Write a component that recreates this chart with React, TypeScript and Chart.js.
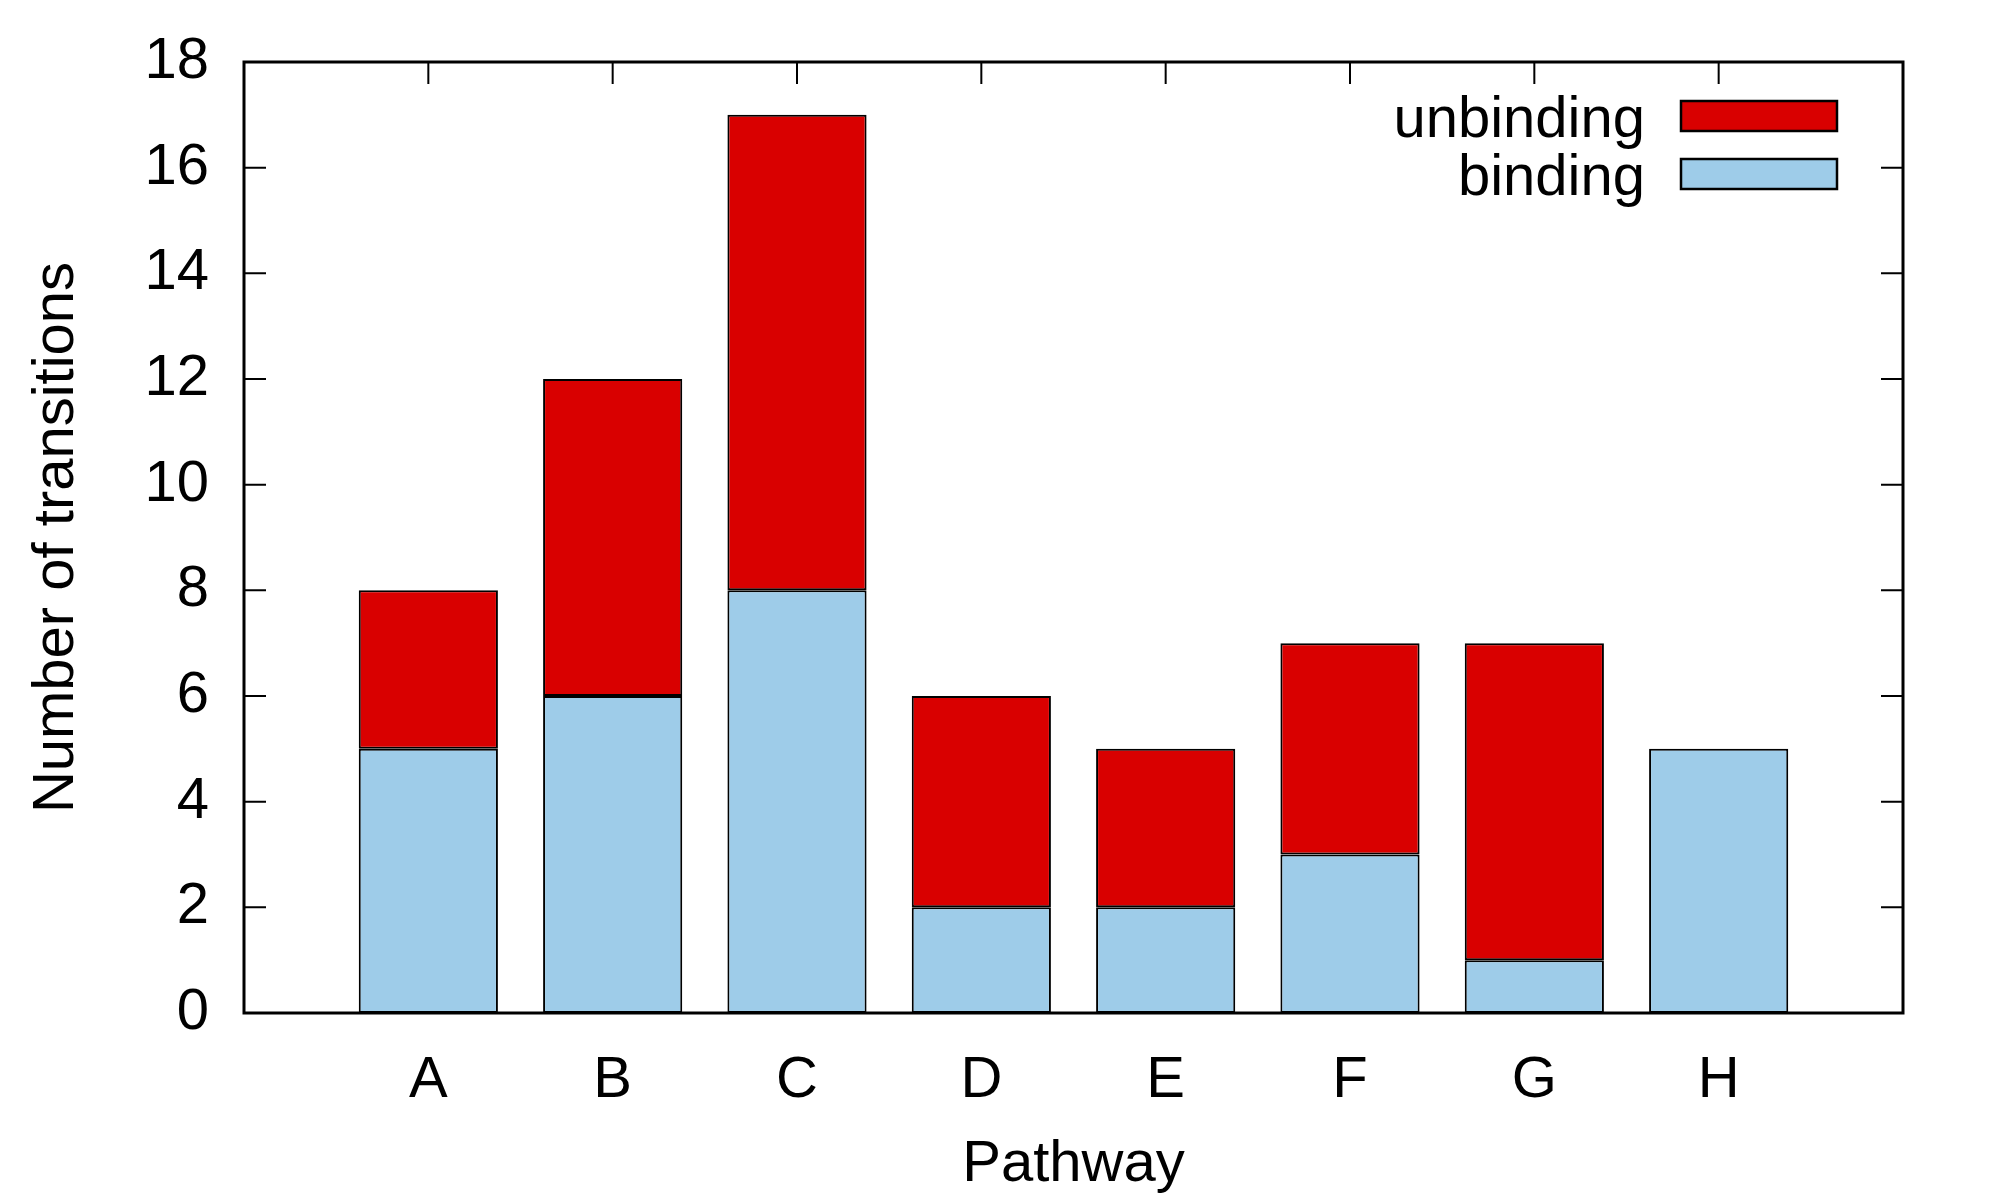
import React, { useEffect, useRef } from "react";
import { Chart, registerables } from "chart.js";

Chart.register(...registerables);

const categories = ["A", "B", "C", "D", "E", "F", "G", "H"];
const bindingValues = [5, 6, 8, 2, 2, 3, 1, 5];
const unbindingValues = [3, 6, 9, 4, 3, 4, 6, 0];
const seriesLabels = ["binding", "unbinding"];
const seriesColors = ["#9ecce9", "#d90000"];
const yAxisTitle = "Number of transitions";
const xAxisTitle = "Pathway";

const FONT = "'Liberation Sans', Arial, Helvetica, sans-serif";

const framePlugin = {
  id: "gnuFrame",
  beforeDatasetsDraw(chart: any) {
    const { ctx, chartArea, scales } = chart;
    const { left, right, top, bottom } = chartArea;
    const x = scales.x;
    const y = scales.y;
    const tl = 22;
    ctx.save();
    ctx.strokeStyle = "#000";
    ctx.lineWidth = 2;
    ctx.beginPath();
    y.ticks.forEach((t: any) => {
      const py = y.getPixelForValue(t.value);
      ctx.moveTo(left, py);
      ctx.lineTo(left + tl, py);
      ctx.moveTo(right, py);
      ctx.lineTo(right - tl, py);
    });
    categories.forEach((_c, i) => {
      const px = x.getPixelForValue(i + 1);
      ctx.moveTo(px, top);
      ctx.lineTo(px, top + tl);
      ctx.moveTo(px, bottom);
      ctx.lineTo(px, bottom - tl);
    });
    ctx.stroke();
    ctx.restore();
  },
  afterDatasetsDraw(chart: any) {
    const { ctx, chartArea } = chart;
    const { left, right, top, bottom } = chartArea;
    ctx.save();
    ctx.strokeStyle = "#000";
    ctx.lineWidth = 3;
    ctx.strokeRect(left, top, right - left, bottom - top);

    // legend (reverse order: top of stack first)
    const datasets = chart.data.datasets.slice().reverse();
    const textRight = right - 258;
    const boxLeft = right - 222;
    const boxW = 156;
    const boxH = 30;
    ctx.font = `58px ${FONT}`;
    ctx.textAlign = "right";
    ctx.textBaseline = "middle";
    datasets.forEach((ds: any, i: number) => {
      const cy = top + 54 + i * 58;
      ctx.fillStyle = "#000";
      ctx.fillText(ds.label, textRight, cy + 5);
      ctx.fillStyle = ds.backgroundColor;
      ctx.fillRect(boxLeft, cy - boxH / 2, boxW, boxH);
      ctx.lineWidth = 2.5;
      ctx.strokeStyle = "#000";
      ctx.strokeRect(boxLeft, cy - boxH / 2, boxW, boxH);
    });
    ctx.restore();
  },
};

export default function App() {
  const canvasRef = useRef<HTMLCanvasElement | null>(null);

  useEffect(() => {
    const canvas = canvasRef.current;
    if (!canvas) return;
    const values = [bindingValues, unbindingValues];
    const chart = new Chart(canvas, {
      type: "bar",
      data: {
        datasets: seriesLabels.map((label, si) => ({
          label,
          data: categories.map((_c, i) => ({ x: i + 1, y: values[si][i] })),
          backgroundColor: seriesColors[si],
          borderColor: "#000",
          borderWidth: 2,
          borderSkipped: false,
          categoryPercentage: 1,
          barPercentage: 0.755,
        })),
      },
      options: {
        responsive: false,
        animation: false,
        devicePixelRatio: 1,
        layout: { padding: { top: 62, right: 97, left: 0, bottom: 0 } },
        plugins: {
          legend: { display: false },
          tooltip: { enabled: false },
        },
        scales: {
          x: {
            type: "linear",
            stacked: true,
            offset: false,
            min: 0,
            max: 9,
            grid: { display: false, offset: false },
            border: { display: false },
            ticks: {
              stepSize: 1,
              autoSkip: false,
              maxRotation: 0,
              padding: 25,
              color: "#000",
              font: { family: FONT, size: 58 },
              callback: (v: any) => categories[Number(v) - 1] ?? "",
            },
            title: {
              display: true,
              text: xAxisTitle,
              color: "#000",
              font: { family: FONT, size: 58 },
              padding: { top: 0, bottom: 0 },
            },
            afterFit: (scale: any) => {
              scale.height = 187;
              scale.paddingLeft = 0;
              scale.paddingRight = 0;
            },
          },
          y: {
            type: "linear",
            stacked: true,
            min: 0,
            max: 18,
            grid: { display: false },
            border: { display: false },
            ticks: {
              stepSize: 2,
              padding: 27,
              color: "#000",
              font: { family: FONT, size: 58 },
            },
            title: {
              display: true,
              text: yAxisTitle,
              color: "#000",
              font: { family: FONT, size: 58 },
              padding: { top: 22, bottom: 0 },
            },
            afterFit: (scale: any) => {
              scale.width = 244;
              scale.paddingTop = 0;
              scale.paddingBottom = 0;
            },
          },
        },
      },
      plugins: [framePlugin],
    });
    return () => chart.destroy();
  }, []);

  return (
    <div style={{ position: "absolute", left: 0, top: 0, width: 2000, height: 1200, background: "#fff" }}>
      <canvas ref={canvasRef} width={2000} height={1200} style={{ display: "block" }} />
    </div>
  );
}
